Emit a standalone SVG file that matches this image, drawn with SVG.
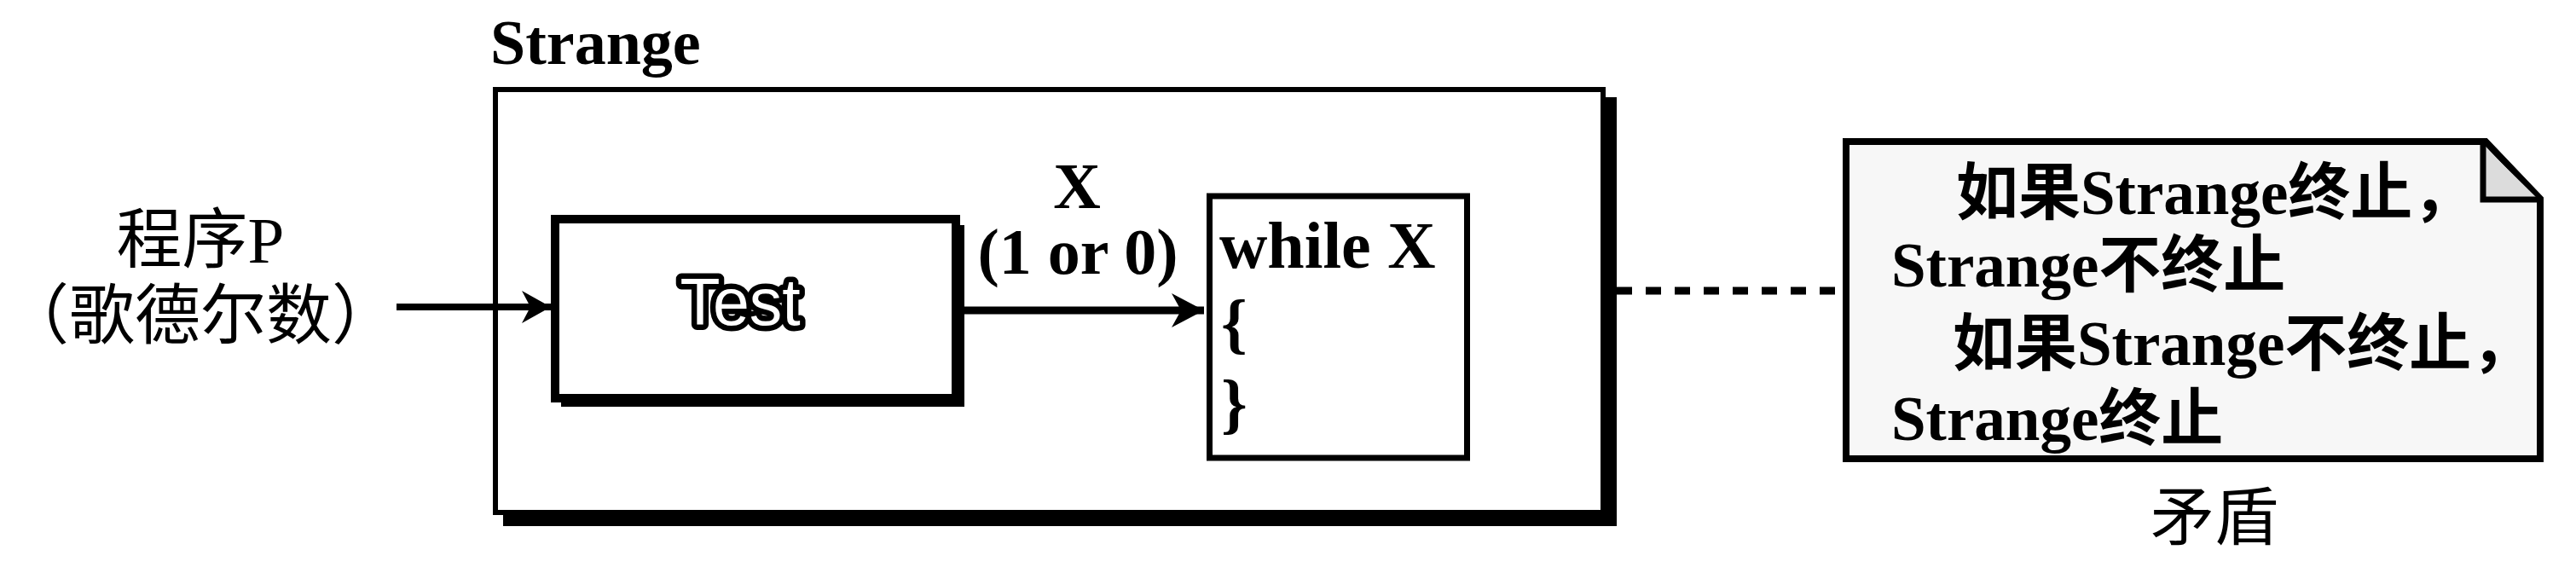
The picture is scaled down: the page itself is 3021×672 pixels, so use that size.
<svg xmlns="http://www.w3.org/2000/svg" width="3021" height="672" viewBox="0 0 3021 672">
  <style>
    .lat { font-family: "Liberation Serif", "Noto Sans CJK SC", serif; fill: #000; }
    .cjk { font-family: "Liberation Serif", "Noto Sans CJK SC", serif; fill: #000; }
    .b { font-weight: bold; }
    .box { fill: #fff; stroke: #000; }
    .shadow { fill: #000; }
    .conn { stroke: #000; fill: none; }
  </style>
  <defs>
    <marker id="arrow" markerUnits="userSpaceOnUse" viewBox="-40 -24 42 48" markerWidth="42" markerHeight="48" refX="0" refY="0" orient="auto" overflow="visible">
      <path d="M0,0 L-34,-19 L-24,0 L-34,19 Z" fill="#000"/>
    </marker>
    <marker id="arrow2" markerUnits="userSpaceOnUse" viewBox="-42 -24 44 48" markerWidth="44" markerHeight="48" refX="0" refY="0" orient="auto" overflow="visible">
      <path d="M0,0 L-38,-20 L-27,0 L-38,20 Z" fill="#000"/>
    </marker>
  </defs>

  <!-- Strange container -->
  <g id="node-strange">
    <rect class="shadow" x="590" y="114" width="1306" height="503"/>
    <rect class="box" x="581" y="105" width="1299" height="496" stroke-width="6"/>
    <text class="lat b" x="575" y="75" font-size="74">Strange</text>
  </g>

  <!-- Input label -->
  <g id="node-input">
    <text class="cjk" x="235" y="308" font-size="77" text-anchor="middle">程序P</text>
    <text class="cjk" x="235" y="397" font-size="77" text-anchor="middle">（歌德尔数）</text>
  </g>

  <!-- Test box -->
  <g id="node-test">
    <rect class="shadow" x="658" y="264" width="473" height="213"/>
    <rect class="box" x="651" y="257" width="470" height="210" stroke-width="10"/>
    <text x="868" y="381" font-size="77" text-anchor="middle" font-family="Liberation Sans, Arial, sans-serif" fill="#fff" stroke="#000" stroke-width="13" stroke-linejoin="round" paint-order="stroke">Test</text>
  </g>

  <!-- while box -->
  <g id="node-while">
    <rect class="box" x="1418.5" y="230" width="302" height="307" stroke-width="7"/>
    <text class="lat b" x="1430" y="314" font-size="78">while X</text>
    <text class="lat b" x="1432" y="405" font-size="78">{</text>
    <text class="lat b" x="1432" y="499" font-size="78">}</text>
  </g>

  <!-- Note box -->
  <g id="node-note">
    <path d="M2165,166 L2915,166 L2979,233 L2979,538 L2165,538 Z" fill="#f7f7f7" stroke="#000" stroke-width="8" stroke-linejoin="miter"/>
    <path d="M2912,170 L2912,234 L2977,234" fill="#dcdcdc" stroke="#000" stroke-width="7"/>
    <text class="cjk b" x="2294" y="251" font-size="73">如果Strange终止，</text>
    <text class="cjk b" x="2218" y="336" font-size="73">Strange不终止</text>
    <text class="cjk b" x="2290" y="428" font-size="73">如果Strange不终止，</text>
    <text class="cjk b" x="2218" y="516" font-size="73">Strange终止</text>
  </g>

  <g id="node-contradiction">
    <text class="cjk" x="2597" y="633" font-size="75" text-anchor="middle">矛盾</text>
  </g>

  <!-- Connectors -->
  <g id="connectors">
    <line class="conn" x1="465" y1="360" x2="646" y2="360" stroke-width="8" marker-end="url(#arrow)"/>
    <line class="conn" x1="1131" y1="364" x2="1412" y2="364" stroke-width="9" marker-end="url(#arrow2)"/>
    <text class="lat b" x="1263" y="244" font-size="77" text-anchor="middle">X</text>
    <text class="lat b" x="1264" y="321" font-size="76" text-anchor="middle">(1 or 0)</text>
    <line class="conn" x1="1896" y1="341" x2="2161" y2="341" stroke-width="9" stroke-dasharray="18 16"/>
  </g>
</svg>
